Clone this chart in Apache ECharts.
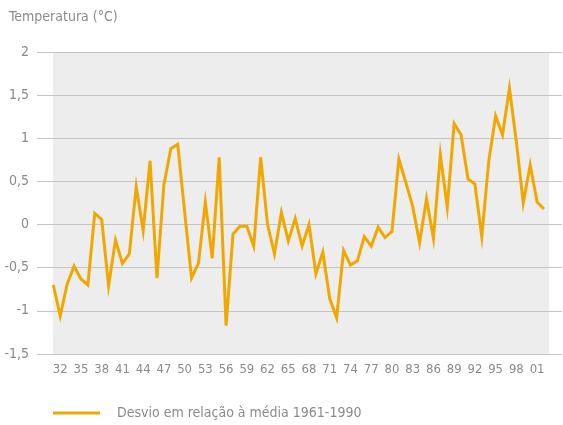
<!DOCTYPE html>
<html>
<head>
<meta charset="utf-8">
<script src="https://cdn.jsdelivr.net/npm/echarts@6/dist/echarts.min.js"></script>
<style>
    html, body { margin: 0; padding: 0; background: #fff; }
    #main { width: 563px; height: 425px; }
</style>
</head>
<body>
<div id="main"></div>
<script>
// anos 1931-2002
var years = [];
for (var y = 1931; y <= 2002; y++) {
    years.push(String(y));
}

var seriesName = 'Desvio em relação à média 1961-1990';

// desvio de temperatura (°C)
var desvio = [
    -0.70, -1.06, -0.69, -0.48, -0.63, -0.70, 0.13, 0.06, -0.71, -0.18,
    -0.45, -0.34, 0.44, -0.07, 0.74, -0.62, 0.46, 0.88, 0.93, 0.15,
    -0.62, -0.45, 0.26, -0.39, 0.78, -1.17, -0.11, -0.02, -0.02, -0.25,
    0.78, 0.00, -0.34, 0.14, -0.19, 0.07, -0.25, 0.00, -0.57, -0.32,
    -0.86, -1.08, -0.30, -0.47, -0.42, -0.14, -0.25, -0.03, -0.15, -0.08,
    0.76, 0.49, 0.21, -0.21, 0.30, -0.16, 0.81, 0.20, 1.17, 1.04,
    0.53, 0.47, -0.14, 0.73, 1.26, 1.04, 1.58, 0.96, 0.25, 0.69,
    0.26, 0.18
];

var yMin = -1.5, yMax = 2, yStep = 0.5;

var fontName = '"Liberation Sans Narrow", "DejaVu Sans Condensed", sans-serif';
var textGrey = '#8a8a8a';
var lineColor = '#f0a800';

var myChart = echarts.init(document.getElementById('main'));

var option = {
    animation: false,
    backgroundColor: '#ffffff',
    title: {
        text: 'Temperatura (°C)',
        left: 4,
        top: 5,
        textStyle: {
            color: textGrey,
            fontFamily: fontName,
            fontSize: 14,
            fontWeight: 'normal'
        }
    },
    legend: {
        data: [seriesName],
        left: 53,
        top: 406,
        padding: 0,
        icon: 'rect',
        itemWidth: 47,
        itemHeight: 3,
        textStyle: {
            color: textGrey,
            fontFamily: fontName,
            fontSize: 14,
            padding: [0, 0, 0, 12]
        }
    },
    // fundo cinza da área do gráfico
    graphic: [{
        type: 'rect',
        z: -10,
        left: 53,
        top: 52,
        shape: { width: 496, height: 302 },
        style: { fill: '#ededed' },
        silent: true
    }],
    grid: [
        // grade das linhas horizontais
        { left: 37, right: 1, top: 52, bottom: 71 },
        // área da série
        { left: 53.3, right: 19, top: 52, bottom: 71 }
    ],
    xAxis: [
        {
            gridIndex: 0,
            type: 'value',
            show: false
        },
        {
            gridIndex: 1,
            type: 'category',
            data: years,
            boundaryGap: false,
            axisLine: { show: false },
            axisTick: { show: false },
            splitLine: { show: false },
            axisLabel: {
                margin: 9,
                color: textGrey,
                fontFamily: fontName,
                fontSize: 13,
                interval: function (idx) {
                    return (idx - 1) % 3 === 0;
                },
                formatter: function (v) {
                    return v.slice(2);
                }
            }
        }
    ],
    yAxis: [
        {
            gridIndex: 0,
            type: 'value',
            min: yMin,
            max: yMax,
            interval: yStep,
            axisLine: { show: false },
            axisTick: { show: false },
            splitLine: {
                show: true,
                lineStyle: { color: '#c4c4c4', width: 1 }
            },
            axisLabel: {
                margin: 8,
                color: textGrey,
                fontFamily: fontName,
                fontSize: 14,
                formatter: function (v) {
                    return String(v).replace('.', ',');
                }
            }
        },
        {
            gridIndex: 1,
            type: 'value',
            min: yMin,
            max: yMax,
            interval: yStep,
            show: false
        }
    ],
    series: [{
        name: seriesName,
        type: 'line',
        xAxisIndex: 1,
        yAxisIndex: 1,
        data: desvio,
        symbol: 'none',
        z: 5,
        lineStyle: { color: lineColor, width: 3, join: 'miter' },
        itemStyle: { color: lineColor }
    }]
};

myChart.setOption(option);
</script>
</body>
</html>
